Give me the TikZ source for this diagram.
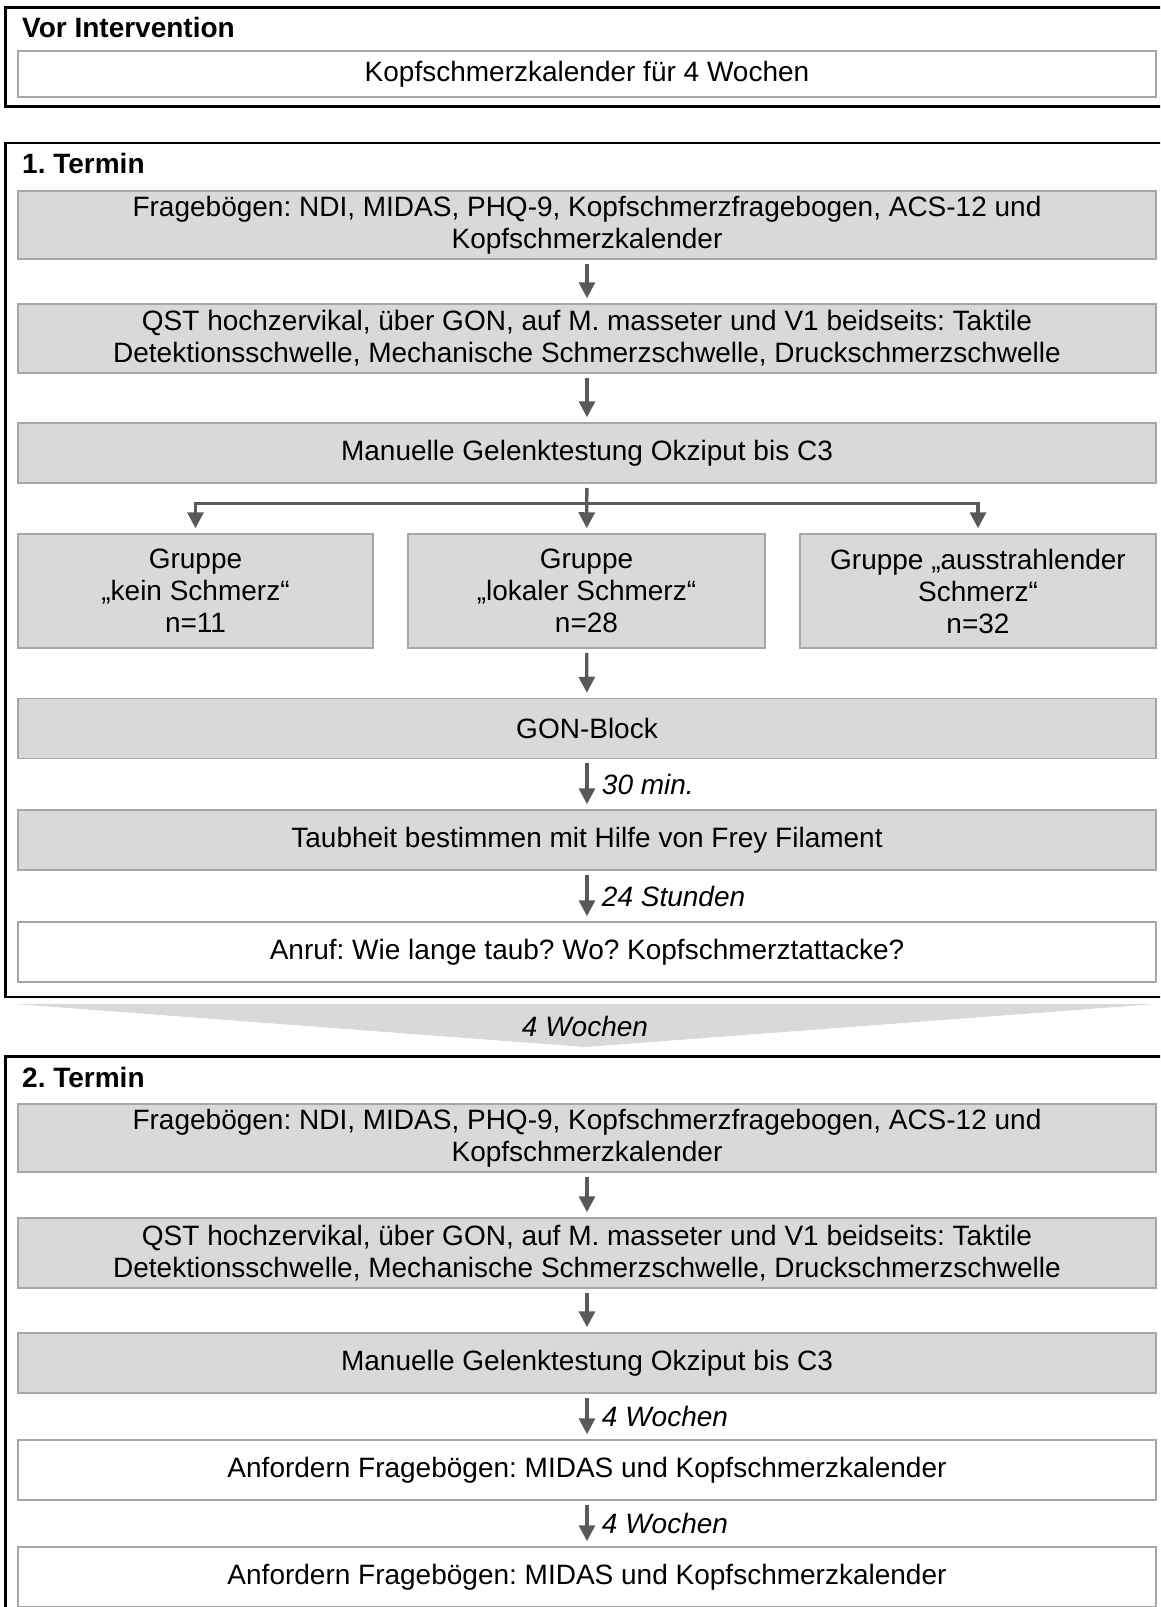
\documentclass[tikz,border=0pt]{standalone}
\usepackage{fontspec}
\setmainfont{Liberation Sans}
\usepackage{xcolor}
\usepackage{tikz}
\usetikzlibrary{positioning}
\usetikzlibrary{arrows.meta}
\frenchspacing

\definecolor{boxgray}{HTML}{D9D9D9}
\definecolor{rimgray}{HTML}{A6A6A6}
\definecolor{arrgray}{HTML}{595959}

\tikzset{
  frame/.style={draw=black,line width=2.7pt},
  head/.style={anchor=west,inner sep=0pt,font=\fontsize{28}{32}\selectfont\bfseries},
  grey/.style={draw=rimgray,line width=1.5pt,fill=boxgray,align=center,minimum width=1138pt,inner sep=0pt},
  plain/.style={grey,fill=white},
  grp/.style={grey,minimum width=355pt,minimum height=114pt},
  arr/.style={draw=arrgray,line width=3.3pt,-{Triangle[length=16pt,width=16pt]},shorten <=4pt,shorten >=5pt},
  lbl/.style={right,xshift=10pt,font=\fontsize{28}{32}\selectfont\itshape,text=black}
}

\begin{document}
\begin{tikzpicture}[x=1pt,y=-1pt,font=\fontsize{28}{32}\selectfont]
\clip (0,0) rectangle (1160,1607);
% vor intervention
\draw[frame] (5.7,7.3) rectangle (1175,106.7);
\node[head] (t0) at (22,27) {Vor Intervention};
\node[plain,minimum height=46pt] (k1) at (587,74) {Kopfschmerzkalender für 4 Wochen};

% 1. termin
\draw[frame] (5.7,143) rectangle (1175,997);
\node[head] (t1) at (22,163) {1. Termin};
\node[grey,minimum height=68pt] (a1) at (587,225) {Fragebögen: NDI, MIDAS, PHQ-9, Kopfschmerzfragebogen, ACS-12 und\\Kopfschmerzkalender};
\node[grey,minimum height=69pt] (b1) at (587,338.5) {QST hochzervikal, über GON, auf M. masseter und V1 beidseits: Taktile\\Detektionsschwelle, Mechanische Schmerzschwelle, Druckschmerzschwelle};
\node[grey,minimum height=60pt] (c1) at (587,453) {Manuelle Gelenktestung Okziput bis C3};
\node[grp] (g1) at (195.5,591) {Gruppe\\„kein Schmerz“\\n=11};
\node[grp,minimum width=357pt] (g2) at (586.5,591) {Gruppe\\„lokaler Schmerz“\\n=28};
\node[grp,minimum width=356pt] (g3) at (978,591) {Gruppe „ausstrahlender\\Schmerz“\\n=32};
\node[grey,minimum height=60pt] (gon) at (587,728.5) {GON-Block};
\node[grey,minimum height=60pt] (taub) at (587,840) {Taubheit bestimmen mit Hilfe von Frey Filament};
\node[plain,minimum height=60pt] (anruf) at (587,952) {Anruf: Wie lange taub? Wo? Kopfschmerztattacke?};

\draw[arr] (a1) -- (b1);
\draw[arr] (b1) -- (c1);
\draw[arr] (c1) -- (g2);
\draw[arr,shorten <=0pt] (c1.south) ++(0,20) -| (g1);
\draw[arr,shorten <=0pt] (c1.south) ++(0,20) -| (g3);
\draw[arr] (g2) -- (gon);
\draw[arr] (gon) -- (taub) node[midway,lbl] {30 min.};
\draw[arr] (taub) -- (anruf) node[midway,lbl] {24 Stunden};

% pause
\fill[boxgray] (15,1004) -- (1155,1004) -- (585,1047) -- cycle;
\node[font=\fontsize{28}{32}\selectfont\itshape] (pause) at (585,1026) {4 Wochen};

% 2. termin
\draw[frame] (5.7,1056.5) rectangle (1175,1640);
\node[head] (t2) at (22,1077) {2. Termin};
\node[grey,minimum height=68pt] (a2) at (587,1138) {Fragebögen: NDI, MIDAS, PHQ-9, Kopfschmerzfragebogen, ACS-12 und\\Kopfschmerzkalender};
\node[grey,minimum height=70pt] (b2) at (587,1253) {QST hochzervikal, über GON, auf M. masseter und V1 beidseits: Taktile\\Detektionsschwelle, Mechanische Schmerzschwelle, Druckschmerzschwelle};
\node[grey,minimum height=60pt] (c2) at (587,1363) {Manuelle Gelenktestung Okziput bis C3};
\node[plain,minimum height=60pt] (req1) at (587,1470) {Anfordern Fragebögen: MIDAS und Kopfschmerzkalender};
\node[plain,minimum height=60pt] (req2) at (587,1577) {Anfordern Fragebögen: MIDAS und Kopfschmerzkalender};

\draw[arr] (a2) -- (b2);
\draw[arr] (b2) -- (c2);
\draw[arr] (c2) -- (req1) node[midway,lbl] {4 Wochen};
\draw[arr] (req1) -- (req2) node[midway,lbl] {4 Wochen};
\end{tikzpicture}
\end{document}
